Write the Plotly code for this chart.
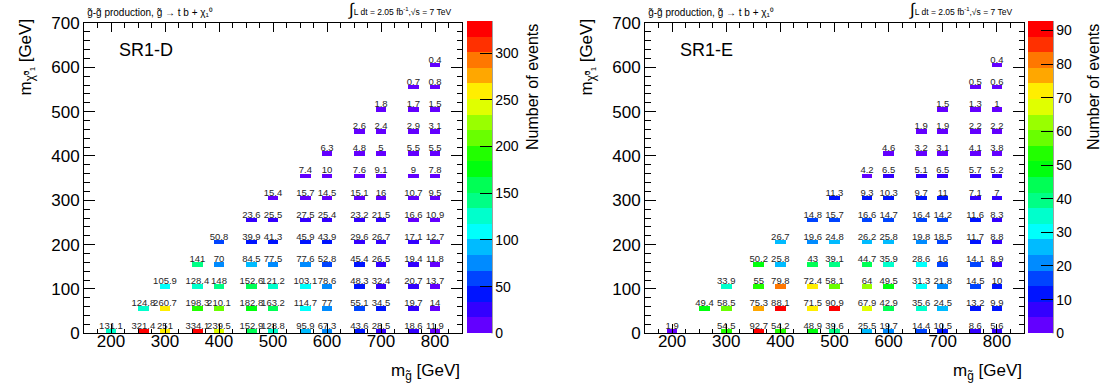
import plotly.graph_objects as go
import math

# ---------------- data ----------------
gluino_mass = [200, 250, 300, 350, 400, 450, 500, 550, 600, 650, 700, 750, 800]
lsp_mass = [0, 50, 100, 150, 200, 250, 300, 350, 400, 450, 500, 550, 600]

N = None
sr1d_events = [
    [131.1, 321.4, 251, 334.1, 239.5, 152.9, 128.8, 95.9, 67.3, 43.6, 28.5, 18.6, 11.9],
    [N, 124.8, 260.7, 198.3, 210.1, 182.8, 163.2, 114.7, 77, 55.1, 34.5, 19.7, 14],
    [N, N, 105.9, 128.4, 148, 152.6, 121.2, 103.1, 78.6, 48.3, 32.4, 20.7, 13.7],
    [N, N, N, 141, 70, 84.5, 77.5, 77.6, 52.8, 45.4, 26.5, 19.4, 11.8],
    [N, N, N, N, 50.8, 39.9, 41.3, 45.9, 43.9, 29.6, 26.7, 17.1, 12.7],
    [N, N, N, N, N, 23.6, 25.5, 27.5, 25.4, 23.2, 21.5, 16.6, 10.9],
    [N, N, N, N, N, N, 15.4, 15.7, 14.5, 15.1, 16, 10.7, 9.5],
    [N, N, N, N, N, N, N, 7.4, 10, 7.6, 9.1, 9, 7.8],
    [N, N, N, N, N, N, N, N, 6.3, 4.8, 5, 5.5, 5.5],
    [N, N, N, N, N, N, N, N, N, 2.6, 2.4, 2.9, 3.1],
    [N, N, N, N, N, N, N, N, N, N, 1.8, 1.7, 1.5],
    [N, N, N, N, N, N, N, N, N, N, N, 0.7, 0.8],
    [N, N, N, N, N, N, N, N, N, N, N, N, 0.4],
]

sr1e_events = [
    [1.9, N, 54.5, 92.7, 54.2, 48.9, 39.6, 25.5, 19.7, 14.4, 10.5, 8.6, 5.6],
    [N, 49.4, 58.5, 75.3, 88.1, 71.5, 90.9, 67.9, 42.9, 35.6, 24.5, 13.2, 9.9],
    [N, N, 33.9, 55, 79.8, 72.4, 58.1, 64, 49.5, 31.3, 21.8, 14.5, 10],
    [N, N, N, 50.2, 25.8, 43, 39.1, 44.7, 35.9, 28.6, 16, 14.1, 8.9],
    [N, N, N, N, 26.7, 19.6, 24.8, 26.2, 25.8, 19.8, 18.5, 11.7, 8.8],
    [N, N, N, N, N, 14.8, 15.7, 16.6, 14.7, 16.4, 14.2, 11.6, 8.3],
    [N, N, N, N, N, N, 11.3, 9.3, 10.3, 9.7, 11, 7.1, 7],
    [N, N, N, N, N, N, N, 4.2, 6.5, 5.1, 6.5, 5.7, 5.2],
    [N, N, N, N, N, N, N, N, 4.6, 3.2, 3.1, 4.1, 3.8],
    [N, N, N, N, N, N, N, N, N, 1.9, 1.9, 2.2, 2.2],
    [N, N, N, N, N, N, N, N, N, N, 1.5, 1.3, 1],
    [N, N, N, N, N, N, N, N, N, N, N, 0.5, 0.6],
    [N, N, N, N, N, N, N, N, N, N, N, N, 0.4],
]

sr1d_ticks = [0, 50, 100, 150, 200, 250, 300]
sr1e_ticks = [0, 10, 20, 30, 40, 50, 60, 70, 80, 90]

# histogram binning (ROOT-like TH2)
X_MIN, X_MAX, X_W = 150, 850, 20
Y_MIN, Y_MAX, Y_W = 0, 700, 10

# ---------------- palette (ROOT pretty palette, 20 contours) ----------------
def hls_hue_rgb(h):
    def f(hh):
        hh = hh % 360
        if hh < 60:
            return hh / 60
        if hh < 180:
            return 1.0
        if hh < 240:
            return (240 - hh) / 60
        return 0.0
    r, g, b = f(h + 120), f(h), f(h - 120)
    return "rgb(%d,%d,%d)" % (round(r * 255), round(g * 255), round(b * 255))

NCONT = 20
palette = []
for j in range(NCONT):
    idx = int((j + 0.99) * 50 / NCONT)
    hue = 280 - (idx + 1) * 280 / 50
    palette.append(hls_hue_rgb(hue))
colorscale = []
for j, c in enumerate(palette):
    colorscale.append([j / NCONT, c])
    colorscale.append([(j + 1) / NCONT, c])

W, H = 1103, 392
FONT = "Liberation Sans, Arial, Helvetica, sans-serif"


def px(x):
    return x / W


def py(y):
    return 1 - y / H


fig = go.Figure()

panels = [
    dict(events=sr1d_events, ticks=sr1d_ticks, label="SR1-D", x0=84, x1=462, cb=467, tit=532, xa="x", ya="y"),
    dict(events=sr1e_events, ticks=sr1e_ticks, label="SR1-E", x0=645, x1=1024, cb=1028, tit=1093, xa="x2", ya="y2"),
]

FT, FB = 23, 333.3  # frame top/bottom px

nxb = (X_MAX - X_MIN) // X_W
nyb = (Y_MAX - Y_MIN) // Y_W
xc = [X_MIN + X_W * (i + 0.5) for i in range(nxb)]
yc = [Y_MIN + Y_W * (i + 0.5) for i in range(nyb)]

annotations = []
shapes = []
for k, p in enumerate(panels):
    z = [[None] * nxb for _ in range(nyb)]
    tx, ty, tt = [], [], []
    zmax = max(v for row in p["events"] for v in row if v is not None)
    for iy, ml in enumerate(lsp_mass):
        for ix, mg in enumerate(gluino_mass):
            v = p["events"][iy][ix]
            if v is None:
                continue
            bx = int(math.floor((mg - X_MIN) / X_W))
            by = int(math.floor((ml - Y_MIN) / Y_W))
            z[by][bx] = v
            tx.append(xc[bx])
            ty.append(yc[by] + 11)
            tt.append("%g" % v)
    fig.add_trace(go.Heatmap(
        x=xc, y=yc, z=z, zmin=0, zmax=zmax, colorscale=colorscale,
        xaxis=p["xa"], yaxis=p["ya"], hoverinfo="skip",
        colorbar=dict(
            x=px(p["cb"]), xanchor="left", xpad=0,
            y=py(FB), yanchor="bottom", ypad=0,
            len=FB - 21, lenmode="pixels", thickness=25, thicknessmode="pixels",
            outlinewidth=0, ticks="inside", ticklen=12, tickcolor="black", tickwidth=1,
            tickvals=p["ticks"], tickfont=dict(family=FONT, size=14, color="black"),
        ),
    ))
    fig.add_trace(go.Scatter(
        x=tx, y=ty, text=tt, mode="text", xaxis=p["xa"], yaxis=p["ya"],
        textfont=dict(family=FONT, size=9.5, color="#262626"), hoverinfo="skip",
        showlegend=False,
    ))
    # colorbar axis line
    shapes.append(dict(type="line", xref="paper", yref="paper",
                       x0=px(p["cb"] + 25), x1=px(p["cb"] + 25), y0=py(FB), y1=py(21),
                       line=dict(color="#444", width=1)))
    annotations += [
        dict(text=p["label"], x=px(p["x0"] + 33), y=py(50), xref="paper", yref="paper",
             xanchor="left", yanchor="middle", showarrow=False,
             font=dict(family=FONT, size=18, color="black")),
        dict(text="m<sub>χ̃⁰₁</sub> [GeV]", textangle=-90, x=px(p["x0"] - 58), y=py(17),
             xref="paper", yref="paper", xanchor="center", yanchor="top", showarrow=False,
             font=dict(family=FONT, size=17, color="black")),
        dict(text="m<sub>g̃</sub> [GeV]", x=px(p["x1"]), y=py(372), xref="paper", yref="paper",
             xanchor="right", yanchor="middle", showarrow=False,
             font=dict(family=FONT, size=17, color="black")),
        dict(text="Number of events", textangle=-90, x=px(p["tit"]), y=py(22),
             xref="paper", yref="paper", xanchor="center", yanchor="top", showarrow=False,
             font=dict(family=FONT, size=16, color="black")),
        dict(text="g̃-g̃ production, g̃ → t b + χ₁⁰", x=px(p["x0"] + 1), y=py(20),
             xref="paper", yref="paper", xanchor="left", yanchor="bottom", showarrow=False,
             font=dict(family=FONT, size=10, color="black")),
        dict(text="<span style='font-size:17px'>∫</span>L dt = 2.05 fb<sup>-1</sup>,√s = 7 TeV",
             x=px(p["x0"] + 262), y=py(21), xref="paper", yref="paper",
             xanchor="left", yanchor="bottom", showarrow=False,
             font=dict(family=FONT, size=8.5, color="black")),
    ]

axis_common = dict(showgrid=False, zeroline=False, showline=True, linecolor="black",
                   linewidth=1, mirror="allticks", ticks="inside", tickcolor="black",
                   automargin=False,
                   tickfont=dict(family=FONT, size=17, color="black"))

xaxis_style = dict(axis_common, range=[X_MIN, X_MAX], dtick=100, tick0=0, ticklen=9,
                   ticklabelstandoff=-8,
                   minor=dict(dtick=25, tick0=0, ticklen=4.5, ticks="inside", tickcolor="black"))
yaxis_style = dict(axis_common, range=[Y_MIN, Y_MAX], dtick=100, tick0=0, ticklen=11,
                   minor=dict(dtick=20, tick0=0, ticklen=5.5, ticks="inside", tickcolor="black"))

fig.update_layout(
    width=W, height=H, margin=dict(l=0, r=0, t=0, b=0, pad=0, autoexpand=False),
    paper_bgcolor="white", plot_bgcolor="white", showlegend=False,
    xaxis=dict(xaxis_style, domain=[px(84), px(462)], anchor="y"),
    yaxis=dict(yaxis_style, domain=[py(FB), py(FT)], anchor="x"),
    xaxis2=dict(xaxis_style, domain=[px(645), px(1024)], anchor="y2"),
    yaxis2=dict(yaxis_style, domain=[py(FB), py(FT)], anchor="x2"),
    annotations=annotations, shapes=shapes,
)

fig.write_html("out.html", config={"displayModeBar": False},
               post_script="document.body.style.margin='0';document.body.style.overflow='hidden';")
